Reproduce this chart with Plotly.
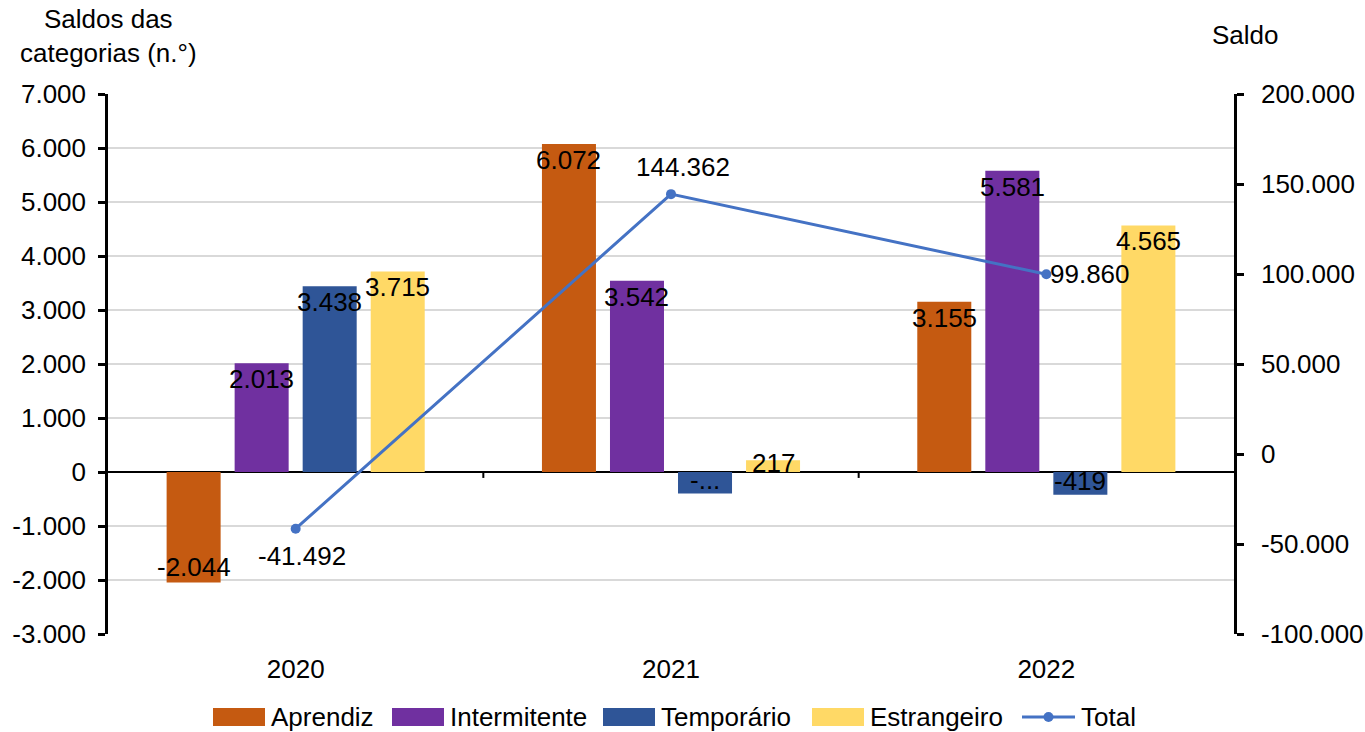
import plotly.graph_objects as go

years = ["2020", "2021", "2022"]
aprendiz = [-2044, 6072, 3155]
intermitente = [2013, 3542, 5581]
temporario = [3438, -400, -419]
estrangeiro = [3715, 217, 4565]
total = [-41492, 144362, 99860]

series = [
    ("Aprendiz", aprendiz, "#C55A11", ["-2.044", "6.072", "3.155"]),
    ("Intermitente", intermitente, "#7030A0", ["2.013", "3.542", "5.581"]),
    ("Temporário", temporario, "#2F5597", ["3.438", "-...", "-419"]),
    ("Estrangeiro", estrangeiro, "#FFD966", ["3.715", "217", "4.565"]),
]
total_labels = ["-41.492", "144.362", "99.860"]

y_ticks = [-3000, -2000, -1000, 0, 1000, 2000, 3000, 4000, 5000, 6000, 7000]
y_ticktext = ["-3.000", "-2.000", "-1.000", "0", "1.000", "2.000", "3.000", "4.000", "5.000", "6.000", "7.000"]
y2_ticks = [-100000, -50000, 0, 50000, 100000, 150000, 200000]
y2_ticktext = ["-100.000", "-50.000", "0", "50.000", "100.000", "150.000", "200.000"]

FONT = "Liberation Sans, Arial, sans-serif"
FS = 26
LINE_COLOR = "#4472C4"
fig = go.Figure()

for name, vals, color, _ in series:
    fig.add_trace(go.Bar(x=years, y=vals, name=name, showlegend=False,
                         marker=dict(color=color, line=dict(width=0))))

fig.add_trace(go.Scatter(x=years, y=total, name="Total", yaxis="y2", mode="lines+markers",
                         showlegend=False,
                         line=dict(color=LINE_COLOR, width=3),
                         marker=dict(size=10, color=LINE_COLOR)))

annotations = []
slot = 0.1813
for i, (name, vals, color, labels) in enumerate(series):
    off = (i - 1.5) * slot
    for j, (v, lab) in enumerate(zip(vals, labels)):
        if abs(v) < 300 and v > 0:
            ys = -3
        elif v >= 0:
            ys = -16
        else:
            ys = 15 if abs(v) > 1000 else 14
        annotations.append(dict(x=j + off, y=v, xref="x", yref="y", text=lab, showarrow=False,
                                yshift=ys, font=dict(size=FS, color="black", family=FONT)))

tshift = [(6, -27), (12, 27), (44, 0)]
for j, (v, lab) in enumerate(zip(total, total_labels)):
    annotations.append(dict(x=j, y=v, xref="x", yref="y2", text=lab, showarrow=False,
                            xshift=tshift[j][0], yshift=tshift[j][1],
                            font=dict(size=FS, color="black", family=FONT)))

annotations.append(dict(x=0, y=1.107, xref="paper", yref="paper", text="Saldos das<br>categorias (n.°)",
                        showarrow=False, xanchor="center", yanchor="middle",
                        font=dict(size=FS, color="black", family=FONT)))
annotations.append(dict(x=1.0098, y=1.109, xref="paper", yref="paper", text="Saldo",
                        showarrow=False, xanchor="center", yanchor="middle",
                        font=dict(size=FS, color="black", family=FONT)))

shapes = []
for xb in [0.5, 1.5]:
    shapes.append(dict(type="line", xref="x", yref="y", x0=xb, x1=xb, y0=0, y1=-110,
                       line=dict(color="black", width=2)))

# manual legend (pixel layout converted to paper coordinates)
PL, PW, PT, PH = 108, 1126, 94, 540
def px(x):
    return (x - PL) / PW
def py(y):
    return (PT + PH - y) / PH

leg_y = 717
legend_items = [(s[0], s[2], 213) for s in series]
legend_starts = [213, 392, 603, 812]
for (name, color, _), x0 in zip(legend_items, legend_starts):
    shapes.append(dict(type="rect", xref="paper", yref="paper", x0=px(x0), x1=px(x0 + 52),
                       y0=py(leg_y + 9), y1=py(leg_y - 9), fillcolor=color, line=dict(width=0)))
    annotations.append(dict(x=px(x0 + 56), y=py(leg_y), xref="paper", yref="paper", text=name,
                            showarrow=False, xanchor="left", yanchor="middle",
                            font=dict(size=FS, color="black", family=FONT)))
tx0 = 1022
shapes.append(dict(type="line", xref="paper", yref="paper", x0=px(tx0), x1=px(tx0 + 53),
                   y0=py(leg_y), y1=py(leg_y), line=dict(color=LINE_COLOR, width=3)))
shapes.append(dict(type="circle", xref="paper", yref="paper", x0=px(tx0 + 21.5), x1=px(tx0 + 31.5),
                   y0=py(leg_y + 5), y1=py(leg_y - 5), fillcolor=LINE_COLOR, line=dict(width=0)))
annotations.append(dict(x=px(tx0 + 57), y=py(leg_y), xref="paper", yref="paper", text="Total",
                        showarrow=False, xanchor="left", yanchor="middle",
                        font=dict(size=FS, color="black", family=FONT)))

fig.update_layout(
    width=1365, height=732,
    margin=dict(l=108, r=131, t=94, b=98, autoexpand=False),
    paper_bgcolor="white", plot_bgcolor="white",
    barmode="group", bargap=0.275, bargroupgap=0.206,
    font=dict(family=FONT, size=FS, color="black"),
    showlegend=False,
    xaxis=dict(type="category", showline=False, showgrid=False, ticks="outside",
               ticklen=12, tickcolor="rgba(0,0,0,0)", tickfont=dict(size=FS)),
    yaxis=dict(range=[-3000, 7000], tickvals=y_ticks, ticktext=y_ticktext, showgrid=True,
               gridcolor="#D9D9D9", gridwidth=1.5, zeroline=True, zerolinecolor="black",
               zerolinewidth=2, showline=True, linecolor="black", linewidth=2.5,
               ticks="outside", ticklen=7, tickwidth=2.5, tickcolor="black",
               ticklabelstandoff=7, tickfont=dict(size=FS)),
    yaxis2=dict(range=[-100000, 200000], tickvals=y2_ticks, ticktext=y2_ticktext, overlaying="y",
                side="right", showgrid=False, zeroline=False, showline=True,
                linecolor="black", linewidth=2.5, ticks="outside", ticklen=7,
                tickwidth=2.5, tickcolor="black", ticklabelstandoff=12, tickfont=dict(size=FS)),
    annotations=annotations,
    shapes=shapes,
)

fig.write_html("out.html")
